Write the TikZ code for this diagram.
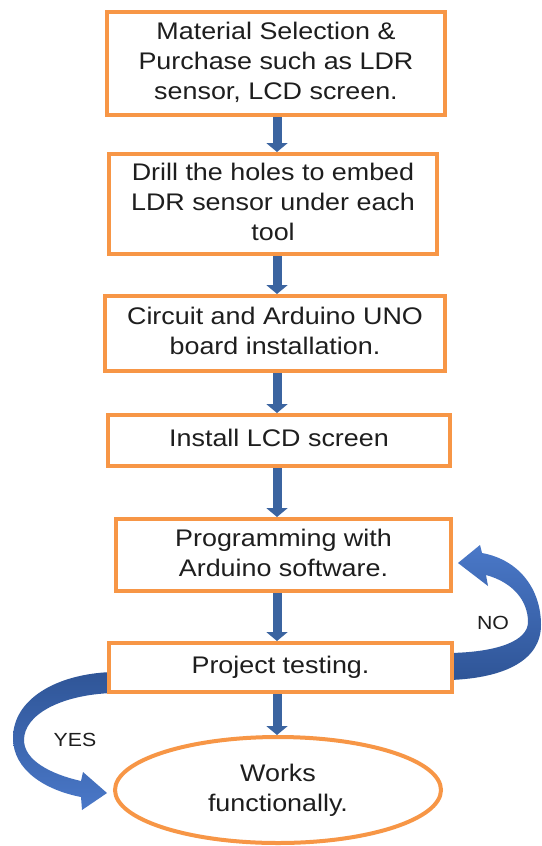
\documentclass[tikz,border=0pt]{standalone}
\usepackage{graphicx}
\usepackage{fontspec}
\setmainfont{Liberation Sans}
\usetikzlibrary{arrows.meta,shapes.geometric}
\definecolor{orng}{HTML}{F79646}
\definecolor{arrowblue}{HTML}{3B64A0}
\definecolor{blueA}{HTML}{2F5597}
\definecolor{blueB}{HTML}{4A78C8}
\definecolor{txt}{HTML}{1E1E1E}
\newcommand{\boxtext}[1]{\scalebox{1.12}[1]{\begin{tabular}{@{}c@{}}#1\end{tabular}}}
\tikzset{
  stepbox/.style={draw=orng, line width=4pt, fill=white, rectangle, inner sep=0pt,
    text=txt, font=\fontsize{24}{30}\selectfont},
  endbox/.style={stepbox, ellipse},
  flow/.style={draw=arrowblue, line width=9pt, -{Triangle[width=21pt,length=9pt]}},
  lbl/.style={text=txt, font=\fontsize{19}{22}\selectfont}
}
\begin{document}
\begin{tikzpicture}[x=1pt,y=-1pt]
\useasboundingbox (0,0) rectangle (541,846);
\fill[white] (0,0) rectangle (541,846);
% curved arrows (behind boxes)
\shade[top color=blueB, bottom color=blueA]
  (450,680) .. controls (505,678) and (541,660) .. (541,625)
  .. controls (541,590) and (520,560) .. (482,553)
  -- (480,545) -- (458,563) -- (488,586) -- (486,575)
  .. controls (512,582) and (528,600) .. (528,622)
  .. controls (528,640) and (500,652) .. (450,653) -- cycle;
\shade[top color=blueA, bottom color=blueB]
  (112,672) .. controls (55,674) and (13,700) .. (13,738)
  .. controls (13,770) and (45,790) .. (81,797)
  -- (82,810) -- (107,793) -- (83,772) -- (81,781)
  .. controls (50,774) and (24,760) .. (24,740)
  .. controls (24,715) and (60,695) .. (112,693) -- cycle;
% boxes
\node[stepbox, minimum width=338pt, minimum height=103pt] (b1) at (276,63.5)
  {\boxtext{Material Selection \&\\Purchase such as LDR\\sensor, LCD screen.}};
\node[stepbox, minimum width=328pt, minimum height=100pt] (b2) at (273,204)
  {\boxtext{Drill the holes to embed\\LDR sensor under each\\tool}};
\node[stepbox, minimum width=340pt, minimum height=75pt] (b3) at (275,333.5)
  {\boxtext{Circuit and Arduino UNO\\board installation.}};
\node[stepbox, minimum width=342pt, minimum height=51pt] (b4) at (279,440.5)
  {\boxtext{Install LCD screen}};
\node[stepbox, minimum width=335pt, minimum height=72pt] (b5) at (283.5,555)
  {\boxtext{Programming with\\Arduino software.}};
\node[stepbox, minimum width=343pt, minimum height=49pt] (b6) at (280.5,667.5)
  {\boxtext{Project testing.}};
\node[endbox, minimum width=326pt, minimum height=106pt] (b7) at (278,790)
  {\boxtext{Works\\functionally.}};
% straight arrows
\coordinate (col) at (277,0);
\draw[flow] (b1.south -| col) -- (b2.north -| col);
\draw[flow] (b2.south -| col) -- (b3.north -| col);
\draw[flow] (b3.south -| col) -- (b4.north -| col);
\draw[flow] (b4.south -| col) -- (b5.north -| col);
\draw[flow] (b5.south -| col) -- (b6.north -| col);
\draw[flow] (b6.south -| col) -- (b7.north -| col);
% labels
\node[lbl] (no) at (493,623) {\scalebox{1.12}[1]{NO}};
\node[lbl] (yes) at (75,740) {\scalebox{1.12}[1]{YES}};
\end{tikzpicture}
\end{document}
